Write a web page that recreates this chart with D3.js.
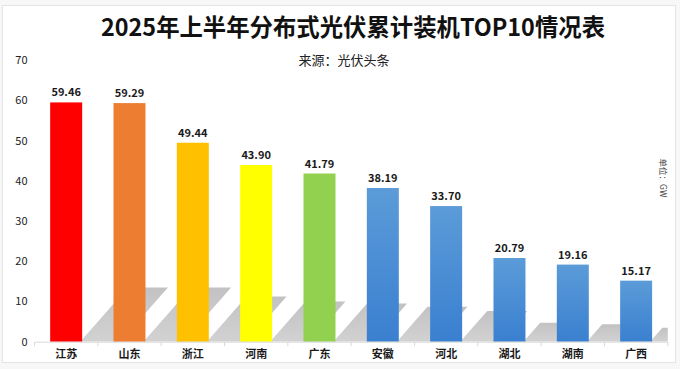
<!DOCTYPE html>
<html><head><meta charset="utf-8">
<script src="https://cdn.jsdelivr.net/npm/d3@7"></script>
<style>
html,body{margin:0;padding:0;background:#fff;}
svg{display:block;}
</style></head>
<body>
<svg id="c" width="680" height="369"></svg>
<script>
const categories = ["江苏","山东","浙江","河南","广东","安徽","河北","湖北","湖南","广西"];
const values = [59.46,59.29,49.44,43.90,41.79,38.19,33.70,20.79,19.16,15.17];
const barColors = ["#ff0000","#ed7d31","#ffc000","#ffff00","#92d050","blue","blue","blue","blue","blue"];
const yTicks = [0,10,20,30,40,50,60,70];
const titleText = "2025年上半年分布式光伏累计装机TOP10情况表";
const subtitleText = "来源：光伏头条";
const unitText = "单位：GW";

const svg = d3.select("#c");
const font = "'Noto Sans CJK SC','Noto Sans',sans-serif";
const W = 680, H = 369;
const base = 341.7;
const x = d3.scaleBand().domain(categories).range([34.5, 667.8]).paddingInner(0.495).paddingOuter(0.2475);
const y = d3.scaleLinear().domain([0,70]).range([base, 60]);

const defs = svg.append("defs");
const bg = defs.append("linearGradient").attr("id","blueG").attr("x1",0).attr("y1",0).attr("x2",0).attr("y2",1);
bg.append("stop").attr("offset","0%").attr("stop-color","#5b9bd8");
bg.append("stop").attr("offset","100%").attr("stop-color","#3a80d0");
const sg = defs.append("linearGradient").attr("id","shG").attr("x1",0).attr("y1",1).attr("x2",0).attr("y2",0);
sg.append("stop").attr("offset","0%").attr("stop-color","#d2d2d2");
sg.append("stop").attr("offset","100%").attr("stop-color","#c2c2c2");
defs.append("clipPath").attr("id","plotClip").append("rect")
  .attr("x",34.5).attr("y",40).attr("width",667.8-34.5).attr("height",base-40);

// frame
svg.append("rect").attr("x",0).attr("y",0).attr("width",W).attr("height",H).attr("fill","#f7f7f7");
svg.append("rect").attr("x",2.5).attr("y",5.5).attr("width",673).attr("height",357).attr("fill","#fff").attr("stroke","#e4e4e4");

// title
svg.append("text").attr("x",353).attr("y",36).attr("text-anchor","middle")
  .attr("font-family",font).attr("font-weight","bold").attr("font-size",24).attr("fill","#111")
  .attr("textLength",504).attr("lengthAdjust","spacingAndGlyphs").text(titleText);
svg.append("text").attr("x",344).attr("y",65).attr("text-anchor","middle")
  .attr("font-family",font).attr("font-size",13).attr("fill","#222").text(subtitleText);

// shadows
const bw = x.bandwidth();
const shadowG = svg.append("g").attr("clip-path","url(#plotClip)");
shadowG.selectAll("path").data(categories).join("path")
  .attr("fill","url(#shG)")
  .attr("d",(c,i)=>{
    const h = (base - y(values[i])) * 0.227;
    const s = h * 0.88;
    const x0 = x(c) + bw - 2, x1 = x(c) + bw + 38;
    return `M${x0},${base}L${x1},${base}L${x1+s},${base-h}L${x0+s},${base-h}Z`;
  });

// bars
svg.append("g").selectAll("rect").data(categories).join("rect")
  .attr("x",c=>x(c)).attr("width",bw)
  .attr("y",(c,i)=>y(values[i])).attr("height",(c,i)=>base-y(values[i]))
  .attr("fill",(c,i)=>barColors[i]==="blue"?"url(#blueG)":barColors[i]);

// value labels
svg.append("g").selectAll("text").data(categories).join("text")
  .attr("x",c=>x(c)+bw/2).attr("y",(c,i)=>y(values[i])-6)
  .attr("text-anchor","middle").attr("font-family",font).attr("font-weight","bold")
  .attr("font-size",11).attr("fill","#1a1a1a")
  .text((c,i)=>values[i].toFixed(2));

// x axis
const xAxisG = svg.append("g").attr("transform",`translate(0,${base})`);
xAxisG.append("line").attr("x1",34.5).attr("x2",667.8).attr("y1",0.5).attr("y2",0.5).attr("stroke","#d9d9d9");
const step = x.step();
const bounds = d3.range(categories.length+1).map(i=>34.5 + i*step);
xAxisG.selectAll(".tk").data(bounds).join("line").attr("class","tk")
  .attr("x1",d=>d).attr("x2",d=>d).attr("y1",0.5).attr("y2",4.5).attr("stroke","#d9d9d9");
xAxisG.selectAll(".cl").data(categories).join("text").attr("class","cl")
  .attr("x",c=>x(c)+bw/2).attr("y",16.5).attr("text-anchor","middle")
  .attr("font-family",font).attr("font-weight","bold").attr("font-size",11).attr("fill","#1a1a1a")
  .text(c=>c);

// y axis
const yAxis = d3.axisLeft(y).tickValues(yTicks).tickSize(0).tickPadding(0).tickFormat(d3.format("d"));
const yG = svg.append("g").attr("transform","translate(27.5,0)").call(yAxis);
yG.select(".domain").remove();
yG.selectAll("text").attr("font-family",font).attr("font-size",11).attr("fill","#222");

// unit
svg.append("text").attr("transform","translate(660,178) rotate(90)").attr("text-anchor","middle")
  .attr("font-family",font).attr("font-size",8.5).attr("fill","#444").text(unitText);
</script>
</body></html>
